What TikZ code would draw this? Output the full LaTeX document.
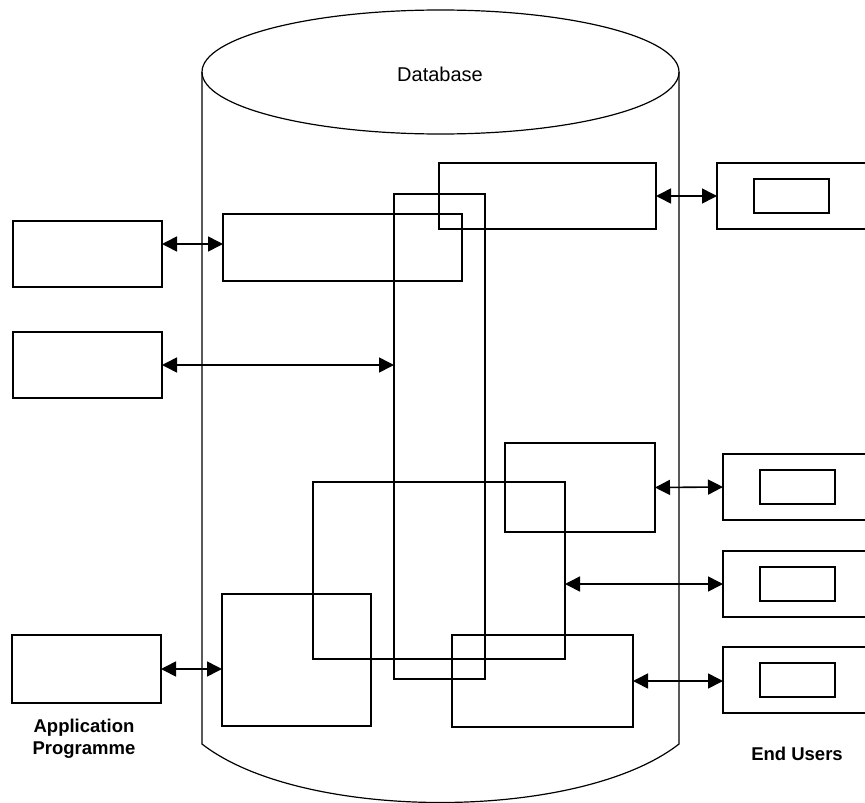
\documentclass[tikz,border=0pt]{standalone}
\usepackage{fontspec}
\setmainfont{Liberation Sans}
\usetikzlibrary{arrows.meta,positioning}

\begin{document}
\begin{tikzpicture}[x=1pt,y=-1pt,
  blk/.style={draw, line width=1.2pt, inner sep=0pt, outer sep=0pt, anchor=north west},
  link/.style={{Triangle[length=15pt,width=15pt]}-{Triangle[length=15pt,width=15pt]}, line width=1.6pt},
  lbl/.style={font=\fontsize{18.5}{22}\selectfont\bfseries, align=center}]
  \clip (0,0) rectangle (865,803);
  % database cylinder
  \draw[line width=1.2pt] (202,72) -- (202,744) .. controls (302,822) and (579,822) .. (679,744) -- (679,72);
  \draw[line width=1.2pt] (440.5,72) ellipse [x radius=238.5, y radius=62];
  \node[font=\fontsize{20}{24}\selectfont] (dbname) at (440,74) {Database};
  % application programmes
  \node[blk, minimum width=149pt, minimum height=66pt] (app1) at (13,221) {};
  \node[blk, minimum width=149pt, minimum height=66pt] (app2) at (13,332) {};
  \node[blk, minimum width=149pt, minimum height=68pt] (app3) at (12,635) {};
  % views inside the database
  \node[blk, minimum width=239pt, minimum height=67pt] (d1) at (223,214) {};
  \node[blk, minimum width=91pt, minimum height=485pt] (tall) at (394,194) {};
  \node[blk, minimum width=217pt, minimum height=66pt] (u1) at (439,163) {};
  \node[blk, minimum width=150pt, minimum height=89pt] (u2) at (505,443) {};
  \node[blk, minimum width=252pt, minimum height=177pt] (mid) at (313,482) {};
  \node[blk, minimum width=149pt, minimum height=132pt] (lowl) at (222,594) {};
  \node[blk, minimum width=181pt, minimum height=92pt] (lowr) at (452,635) {};
  % end user terminals
  \foreach \n/\x/\y in {1/717/163, 2/723/454, 3/723/551, 4/723/647} {
    \node[blk, minimum width=180pt, minimum height=66pt] (user\n) at (\x,\y) {};
    \node[blk, minimum width=75pt, minimum height=34pt, anchor=west] (screen\n) at ([xshift=37pt]user\n.west) {};
  }
  % connections
  \coordinate (d1in) at ([yshift=3.5pt]d1.west);
  \draw[link] (app1.east |- d1in) -- (d1in);
  \draw[link] (app2.east) -- (app2.east -| tall.west);
  \draw[link] (app3.east) -- (app3.east -| lowl.west);
  \draw[link] (u1.east) -- (user1.west);
  \draw[link] (u2.east) -- (user2.west);
  \draw[link] (user3.west -| mid.east) -- (user3.west);
  \draw[link] (lowr.east) -- (lowr.east -| user4.west);
  \node[lbl] (applbl) at (84,739) {Application\\Programme};
  \node[lbl] (userlbl) at (797,754) {End Users};
\end{tikzpicture}
\end{document}
